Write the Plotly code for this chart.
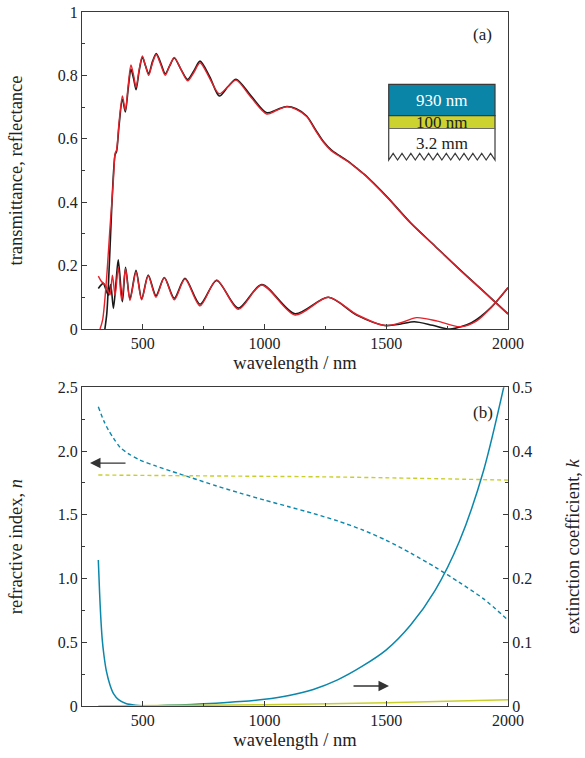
import plotly.graph_objects as go

# ---------------- data ----------------
# (a) transmittance / reflectance spectra: measured (black) and fitted (red)
lam_T_meas = [344, 352, 362, 372, 380, 386, 392, 402, 416, 428, 440, 451, 462, 472, 485,
              498, 511, 524, 540, 555, 573, 592, 610, 629, 656, 684, 710, 735, 775, 814,
              850, 883, 945, 1009, 1050, 1091, 1130, 1173, 1210, 1241, 1275, 1310, 1345,
              1378, 1410, 1447, 1508, 1600, 1700, 1800, 1900, 2000]
T_meas = [0.0, 0.05, 0.2, 0.38, 0.5, 0.55, 0.56, 0.64, 0.725, 0.685, 0.76, 0.82, 0.79,
          0.755, 0.815, 0.857, 0.83, 0.805, 0.845, 0.869, 0.84, 0.805, 0.83, 0.855, 0.82,
          0.787, 0.815, 0.845, 0.795, 0.735, 0.765, 0.788, 0.735, 0.682, 0.692, 0.702,
          0.695, 0.672, 0.628, 0.592, 0.564, 0.546, 0.528, 0.508, 0.488, 0.461, 0.413,
          0.335, 0.262, 0.189, 0.119, 0.048]

lam_T_fit = [324, 335, 350, 365, 379, 386, 392, 402, 416, 428, 440, 451, 462, 472, 485,
             498, 511, 524, 540, 555, 573, 592, 610, 629, 656, 684, 710, 735, 775, 814,
             850, 883, 945, 1009, 1050, 1091, 1130, 1173, 1210, 1241, 1275, 1310, 1345,
             1378, 1410, 1447, 1508, 1600, 1700, 1800, 1900, 2000]
T_fit = [0.0, 0.03, 0.15, 0.32, 0.47, 0.554, 0.565, 0.65, 0.735, 0.69, 0.77, 0.833, 0.80,
         0.762, 0.82, 0.861, 0.83, 0.80, 0.84, 0.866, 0.835, 0.80, 0.83, 0.857, 0.82,
         0.783, 0.81, 0.84, 0.79, 0.742, 0.765, 0.785, 0.73, 0.678, 0.69, 0.701, 0.693,
         0.670, 0.625, 0.590, 0.562, 0.544, 0.527, 0.507, 0.487, 0.46, 0.412, 0.334,
         0.261, 0.188, 0.118, 0.047]

lam_R_meas = [317, 330, 338, 350, 358, 368, 379, 390, 399, 416, 429, 447, 472, 495, 522,
              554, 588, 629, 673, 735, 803, 892, 988, 1125, 1262, 1380, 1495, 1560, 1615,
              1690, 1762, 1850, 1933, 2000]
R_meas = [0.128, 0.14, 0.144, 0.12, 0.107, 0.14, 0.065, 0.15, 0.218, 0.086, 0.195, 0.095,
          0.185, 0.095, 0.17, 0.105, 0.162, 0.097, 0.16, 0.078, 0.153, 0.066, 0.14, 0.048,
          0.10, 0.043, 0.011, 0.016, 0.023, 0.012, 0.0, 0.02, 0.07, 0.13]

lam_R_fit = [317, 330, 344, 355, 365, 375, 386, 399, 413, 429, 447, 472, 495, 522, 554,
             588, 629, 673, 735, 803, 892, 988, 1125, 1262, 1380, 1495, 1560, 1625, 1710,
             1803, 1870, 1933, 2000]
R_fit = [0.167, 0.15, 0.14, 0.125, 0.107, 0.17, 0.105, 0.195, 0.09, 0.19, 0.09, 0.18,
         0.092, 0.168, 0.10, 0.162, 0.092, 0.158, 0.073, 0.155, 0.062, 0.139, 0.044, 0.10,
         0.045, 0.011, 0.02, 0.036, 0.025, 0.007, 0.025, 0.07, 0.131]

# (b) optical constants of the two layers
lam_n_top = [317, 340, 360, 380, 406, 440, 488, 550, 620, 700, 800, 900, 1000, 1100, 1200,
             1300, 1400, 1500, 1600, 1700, 1800, 1900, 2000]
n_top = [2.347, 2.235, 2.16, 2.10, 2.03, 1.98, 1.93, 1.885, 1.84, 1.79, 1.728, 1.67, 1.615,
         1.563, 1.51, 1.452, 1.383, 1.30, 1.20, 1.09, 0.97, 0.84, 0.674]

lam_n_mid = [317, 700, 1228, 1600, 2000]
n_mid = [1.812, 1.806, 1.798, 1.787, 1.772]

lam_k_top = [317, 322, 327, 333, 340, 350, 365, 380, 400, 430, 470, 520, 600, 700, 800,
             900, 1000, 1100, 1200, 1300, 1400, 1500, 1600, 1700, 1800, 1900, 2000]
k_top = [0.229, 0.18, 0.14, 0.105, 0.08, 0.055, 0.033, 0.019, 0.01, 0.004, 0.0012, 0.0,
         0.001, 0.0025, 0.0045, 0.007, 0.0105, 0.0165, 0.026, 0.041, 0.062, 0.088, 0.127,
         0.181, 0.258, 0.37, 0.53]

lam_k_mid = [317, 700, 1000, 1500, 2000]
k_mid = [0.0, 0.001, 0.002, 0.005, 0.010]

# axis ticks
x_ticks = [500, 1000, 1500, 2000]
n_ticks = [0, 0.5, 1.0, 1.5, 2.0, 2.5]
n_ticktext = ["0", "0.5", "1.0", "1.5", "2.0", "2.5"]

# ---------------- style ----------------
BLUE = "#0b87ab"
YELLOW = "#c9cf2a"
RED = "#e3222b"
BLACK = "#1a1a1a"
AX = "#3a3a3a"
FONT = "Times New Roman"

fig = go.Figure()

def line(x, y, color, xa, ya, dash="solid", width=1.6):
    fig.add_trace(go.Scatter(x=x, y=y, mode="lines", xaxis=xa, yaxis=ya,
                             line=dict(color=color, width=width, dash=dash, shape="spline",
                                       smoothing=0.8),
                             showlegend=False, hoverinfo="skip"))

line(lam_T_meas, T_meas, BLACK, "x", "y")
line(lam_R_meas, R_meas, BLACK, "x", "y")
line(lam_T_fit, T_fit, RED, "x", "y", width=1.4)
line(lam_R_fit, R_fit, RED, "x", "y", width=1.4)

line(lam_n_top, n_top, BLUE, "x2", "y2", dash="4px,3px", width=1.4)
line(lam_n_mid, n_mid, YELLOW, "x2", "y2", dash="4px,3px", width=1.4)
line(lam_k_top, k_top, BLUE, "x2", "y3", width=1.5)
line(lam_k_mid, k_mid, YELLOW, "x2", "y3", width=1.5)

tickfont = dict(family=FONT, size=16, color="#222")
titlefont = dict(family=FONT, size=18.5, color="#222")
common = dict(showgrid=False, zeroline=False, showline=True, linecolor=AX, linewidth=1.3,
              ticks="inside", ticklen=5, tickwidth=1.2, tickcolor=AX, tickfont=tickfont,
              automargin=False)

xcommon = dict(common, range=[250, 2000], tickvals=x_ticks, mirror=True,
               minor=dict(dtick=250, tick0=0, ticklen=3, tickcolor=AX, ticks="inside"),
               title=dict(text="wavelength / nm", font=titlefont, standoff=4))

fig.update_layout(
    width=585, height=758,
    margin=dict(l=82, r=77, t=12, b=52),
    paper_bgcolor="white", plot_bgcolor="white",
    font=dict(family=FONT),
    showlegend=False,
    xaxis=dict(xcommon, domain=[0, 1], anchor="y"),
    yaxis=dict(common, domain=[0.5432, 1.0], range=[0, 1], dtick=0.2, mirror=True,
               anchor="x",
               minor=dict(dtick=0.1, ticklen=3, tickcolor=AX, ticks="inside"),
               title=dict(text="transmittance, reflectance", font=titlefont, standoff=30)),
    xaxis2=dict(xcommon, domain=[0, 1], anchor="y2"),
    yaxis2=dict(common, domain=[0, 0.4592], range=[0, 2.5], tickvals=n_ticks,
                ticktext=n_ticktext, anchor="x2",
                minor=dict(dtick=0.25, ticklen=3, tickcolor=AX, ticks="inside"),
                title=dict(text="refractive index, <i>n</i>", font=titlefont, standoff=30)),
    yaxis3=dict(common, range=[0, 0.5], dtick=0.1, overlaying="y2", side="right",
                anchor="x2",
                minor=dict(dtick=0.05, ticklen=3, tickcolor=AX, ticks="inside"),
                title=dict(text="extinction coefficient, <i>k</i>", font=titlefont,
                           standoff=34)),
)

# ---------- layer-stack inset (paper coordinates) ----------
ix0, ix1 = 0.720, 0.9695
y_blue_top, y_blue_bot = 0.8958, 0.8506
y_yel_bot = 0.8319
y_zig_hi, y_zig_lo = 0.7964, 0.7867
fig.add_shape(type="rect", xref="paper", yref="paper", x0=ix0, x1=ix1,
              y0=y_blue_bot, y1=y_blue_top, fillcolor="#0a85a8",
              line=dict(color=AX, width=1.2), layer="above")
fig.add_shape(type="rect", xref="paper", yref="paper", x0=ix0, x1=ix1,
              y0=y_yel_bot, y1=y_blue_bot, fillcolor="#ccd22f",
              line=dict(color=AX, width=1.2), layer="above")
n_teeth = 12
w = (ix1 - ix0) / n_teeth
path = f"M {ix0},{y_yel_bot} L {ix0},{y_zig_lo}"
for i in range(n_teeth):
    path += f" L {ix0 + (i + 0.5) * w},{y_zig_hi} L {ix0 + (i + 1) * w},{y_zig_lo}"
path += f" L {ix1},{y_yel_bot}"
fig.add_shape(type="path", xref="paper", yref="paper", path=path,
              fillcolor="white", line=dict(color=AX, width=1.2), layer="above")

def label(text, x, y, color="#222", size=17):
    fig.add_annotation(text=text, x=x, y=y, xref="paper", yref="paper",
                       showarrow=False, xanchor="center", yanchor="middle",
                       font=dict(family=FONT, size=size, color=color))

label("930 nm", 0.845, 0.873, color="white")
label("100 nm", 0.845, 0.8405)
label("3.2 mm", 0.845, 0.811)
label("(a)", 0.9406, 0.9669)
label("(b)", 0.9406, 0.4236)

# arrows pointing to the relevant axis
fig.add_annotation(x=0.0188, y=0.350, xref="paper", yref="paper", text="",
                   showarrow=True, ax=37, ay=0, arrowhead=2, arrowsize=1.5,
                   arrowwidth=1.4, arrowcolor="#333")
fig.add_annotation(x=0.7207, y=0.0288, xref="paper", yref="paper", text="",
                   showarrow=True, ax=-37, ay=0, arrowhead=2, arrowsize=1.5,
                   arrowwidth=1.4, arrowcolor="#333")

fig.write_html("out.html")
